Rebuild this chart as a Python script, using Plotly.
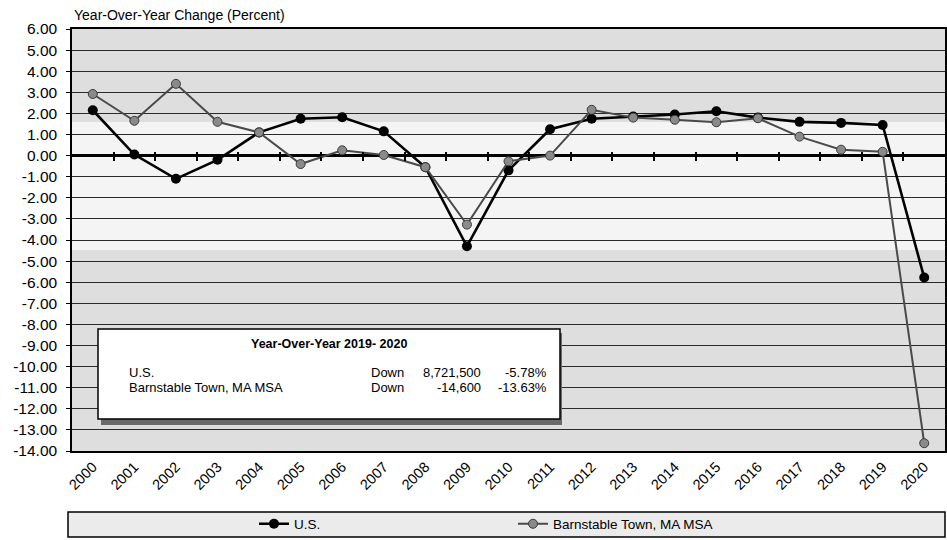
import plotly.graph_objects as go

# ---------------- data ----------------
years = list(range(2000, 2021))
us = [2.15, 0.05, -1.1, -0.2, 1.1, 1.75, 1.82, 1.15, -0.55, -4.3, -0.7,
      1.25, 1.75, 1.85, 1.95, 2.1, 1.8, 1.6, 1.55, 1.45, -5.78]
barn = [2.92, 1.65, 3.4, 1.6, 1.1, -0.4, 0.25, 0.03, -0.55, -3.27, -0.27,
        0.0, 2.17, 1.8, 1.7, 1.58, 1.77, 0.9, 0.28, 0.18, -13.63]
series_names = ["U.S.", "Barnstable Town, MA MSA"]
y_ticks = list(range(-14, 7))
y_ticktext = [f"{v:.2f}" for v in y_ticks]
box_title = "Year-Over-Year 2019- 2020"
box_rows = [
    ("U.S.", "Down", "8,721,500", "-5.78%"),
    ("Barnstable Town, MA MSA", "Down", "-14,600", "-13.63%"),
]
chart_title = "Year-Over-Year Change (Percent)"

# ---------------- layout helpers (pixel -> paper) ----------------
W, H = 947, 540
L, R, T, B = 72, 945, 29, 451


def px(x):
    return (x - L) / (R - L)


def py(y):
    return 1 - (y - T) / (B - T)


FONT = "Liberation Sans, Arial, sans-serif"

fig = go.Figure()
fig.add_trace(go.Scatter(
    x=years, y=us, name=series_names[0], mode="lines+markers",
    line=dict(color="#000000", width=2.6),
    marker=dict(symbol="circle", size=10, color="#000000"),
))
fig.add_trace(go.Scatter(
    x=years, y=barn, name=series_names[1], mode="lines+markers",
    line=dict(color="#4a4a4a", width=2),
    marker=dict(symbol="circle", size=9, color="#8a8a8a",
                line=dict(color="#3a3a3a", width=1)),
))

xrange = [years[0] - 0.5, years[-1] + 0.5]
boundaries = [y + 0.5 for y in years[:-1]]

shapes = [
    # lighter middle band of the stippled background
    dict(type="rect", xref="paper", yref="paper", x0=0, x1=1,
         y0=py(250), y1=py(122), fillcolor="#f4f4f4", line_width=0,
         layer="below"),
    # box shadow
    dict(type="rect", xref="paper", yref="paper", x0=px(101), x1=px(562),
         y0=py(425), y1=py(333), fillcolor="#6a6a6a", line_width=0,
         layer="above"),
    # annotation box
    dict(type="rect", xref="paper", yref="paper", x0=px(98), x1=px(560),
         y0=py(419), y1=py(329), fillcolor="#ffffff",
         line=dict(color="#000000", width=1.5), layer="above"),
    # legend box
    dict(type="rect", xref="paper", yref="paper", x0=px(68), x1=px(945),
         y0=py(537), y1=py(512), fillcolor="#ebebeb",
         line=dict(color="#000000", width=1.5), layer="below"),
]

annotations = [
    dict(text=f"<b>{box_title}</b>", xref="paper", yref="paper",
         x=px(329), y=py(344), xanchor="center", yanchor="middle",
         showarrow=False, font=dict(family=FONT, size=12.5, color="#000")),
]
row_y = [372, 387]
for (name, dirn, num, pct), yy in zip(box_rows, row_y):
    annotations += [
        dict(text=name, xref="paper", yref="paper", x=px(127), y=py(yy),
             xanchor="left", yanchor="middle", showarrow=False,
             font=dict(family=FONT, size=13, color="#000")),
        dict(text=dirn, xref="paper", yref="paper", x=px(369), y=py(yy),
             xanchor="left", yanchor="middle", showarrow=False,
             font=dict(family=FONT, size=13, color="#000")),
        dict(text=num, xref="paper", yref="paper", x=px(483), y=py(yy),
             xanchor="right", yanchor="middle", showarrow=False,
             font=dict(family=FONT, size=13, color="#000")),
        dict(text=pct, xref="paper", yref="paper", x=px(549), y=py(yy),
             xanchor="right", yanchor="middle", showarrow=False,
             font=dict(family=FONT, size=13, color="#000")),
    ]

fig.update_layout(
    width=W, height=H,
    margin=dict(l=L, r=W - R, t=T, b=H - B, autoexpand=False),
    paper_bgcolor="#ffffff",
    plot_bgcolor="#dedede",
    font=dict(family=FONT, color="#000"),
    title=dict(text=chart_title, xref="container", yref="container",
               x=74 / W, y=1 - 15 / H, xanchor="left", yanchor="middle",
               font=dict(family=FONT, size=14, color="#000")),
    xaxis=dict(
        range=xrange, tickmode="array", tickvals=years,
        ticktext=[str(y) for y in years], tickangle=-45,
        tickfont=dict(family=FONT, size=14.5, color="#000"),
        showgrid=False, zeroline=False, showline=True, linecolor="#000",
        linewidth=1.5, mirror=True, ticks="", automargin=False,
    ),
    xaxis2=dict(
        range=xrange, overlaying="x", anchor="free", position=py(156),
        tickmode="array", tickvals=boundaries, showticklabels=False,
        ticks="outside", ticklen=4, tickwidth=2, tickcolor="#000",
        showgrid=False, zeroline=False, showline=False,
    ),
    xaxis3=dict(
        range=xrange, overlaying="x", anchor="free", position=py(156),
        tickmode="array", tickvals=boundaries, showticklabels=False,
        ticks="inside", ticklen=4, tickwidth=2, tickcolor="#000",
        showgrid=False, zeroline=False, showline=False,
    ),
    yaxis=dict(
        range=[y_ticks[0], y_ticks[-1]], tickmode="array",
        tickvals=y_ticks, ticktext=y_ticktext,
        tickfont=dict(family=FONT, size=15.5, color="#000"),
        ticklabelstandoff=6,
        showgrid=True, gridcolor="#2a2a2a", gridwidth=1,
        zeroline=True, zerolinecolor="#000", zerolinewidth=2.5,
        showline=True, linecolor="#000", linewidth=1.5, mirror=True,
        ticks="outside", ticklen=4, tickcolor="#000", automargin=False,
    ),
    showlegend=True,
    legend=dict(
        orientation="h", x=px(254), y=py(524), xanchor="left",
        yanchor="middle", bgcolor="rgba(0,0,0,0)", borderwidth=0,
        font=dict(family=FONT, size=13.5, color="#000"),
        entrywidth=214, entrywidthmode="pixels", itemwidth=30,
    ),
    shapes=shapes,
    annotations=annotations,
)

# dummy hidden traces so overlay axes render their ticks
for ax in ["x2", "x3"]:
    fig.add_trace(go.Scatter(x=[years[0]], y=[us[0]], xaxis=ax, yaxis="y",
                             mode="markers", marker=dict(opacity=0),
                             showlegend=False, hoverinfo="skip"))

fig.write_html(
    "out.html",
    config={"displayModeBar": False},
    post_script="document.body.style.margin='0';"
                "document.documentElement.style.overflow='hidden';",
)
